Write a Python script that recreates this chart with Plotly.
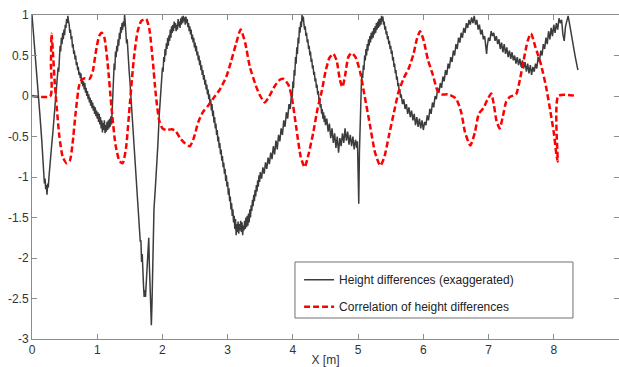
import plotly.graph_objects as go

# ---------------- data ----------------
height_pts = [
    (0.00, 1.00), (0.03, 0.72), (0.06, 0.42), (0.09, 0.10), (0.12, -0.22), (0.15, -0.55),
    (0.17, -0.85), (0.19, -1.08), (0.20, -1.02), (0.21, -1.15), (0.22, -1.10), (0.23, -1.22),
    (0.24, -1.08), (0.25, -1.13), (0.26, -1.00), (0.28, -0.85),
    (0.30, -0.62), (0.32, -0.45), (0.34, -0.22), (0.36, -0.05), (0.38, 0.15), (0.40, 0.35),
    (0.41, 0.30), (0.42, 0.50), (0.43, 0.62), (0.44, 0.55), (0.45, 0.72), (0.46, 0.64),
    (0.47, 0.78), (0.48, 0.70), (0.49, 0.82), (0.50, 0.75), (0.51, 0.88), (0.52, 0.84),
    (0.53, 0.95), (0.54, 0.90), (0.55, 0.99), (0.56, 0.92),
    (0.57, 0.88), (0.58, 0.78), (0.59, 0.82), (0.60, 0.70), (0.61, 0.74), (0.62, 0.60),
    (0.63, 0.64), (0.64, 0.52), (0.65, 0.56), (0.66, 0.45), (0.67, 0.50), (0.68, 0.38),
    (0.69, 0.42), (0.70, 0.32), (0.71, 0.36), (0.72, 0.26), (0.73, 0.30), (0.74, 0.22),
    (0.75, 0.28), (0.76, 0.15), (0.77, 0.22), (0.78, 0.12), (0.79, 0.18), (0.80, 0.08),
    (0.81, 0.16), (0.82, 0.04), (0.83, 0.10), (0.84, 0.00), (0.85, 0.06), (0.86, -0.04),
    (0.87, 0.02), (0.88, -0.08), (0.89, -0.02), (0.90, -0.12), (0.91, -0.05), (0.92, -0.15),
    (0.93, -0.08), (0.94, -0.18), (0.95, -0.12), (0.96, -0.22), (0.97, -0.14), (0.98, -0.25),
    (0.99, -0.18), (1.00, -0.28), (1.01, -0.20), (1.02, -0.32), (1.03, -0.22), (1.04, -0.35),
    (1.05, -0.26), (1.06, -0.40), (1.07, -0.30), (1.08, -0.45), (1.09, -0.33), (1.10, -0.42),
    (1.11, -0.30), (1.12, -0.46), (1.13, -0.36), (1.14, -0.44), (1.15, -0.32), (1.16, -0.42),
    (1.17, -0.30), (1.18, -0.40), (1.19, -0.28), (1.20, -0.38), (1.21, -0.25), (1.22, -0.35),
    (1.23, -0.20),
    (1.24, 0.05), (1.25, 0.25), (1.26, 0.40), (1.27, 0.32), (1.28, 0.55), (1.29, 0.48),
    (1.30, 0.62), (1.31, 0.55), (1.32, 0.70), (1.33, 0.62), (1.34, 0.78), (1.35, 0.70),
    (1.36, 0.85), (1.37, 0.78), (1.38, 0.90), (1.39, 0.82), (1.40, 0.92), (1.41, 0.86),
    (1.42, 1.00), (1.43, 0.90),
    (1.44, 0.80), (1.45, 0.65), (1.46, 0.70), (1.47, 0.50), (1.48, 0.40), (1.49, 0.30),
    (1.50, 0.20), (1.52, -0.05), (1.54, -0.25), (1.56, -0.48), (1.58, -0.70),
    (1.60, -0.92), (1.62, -1.25), (1.64, -1.55), (1.65, -1.65), (1.66, -1.80), (1.67, -1.78),
    (1.68, -2.05), (1.69, -1.95), (1.70, -2.25), (1.71, -2.35), (1.72, -2.48), (1.73, -2.40),
    (1.74, -2.48), (1.75, -2.30), (1.76, -2.10), (1.77, -1.95), (1.78, -1.80), (1.79, -1.75),
    (1.80, -2.10), (1.81, -2.40), (1.82, -2.65), (1.83, -2.83), (1.84, -2.55), (1.85, -2.25),
    (1.86, -2.00), (1.87, -1.40), (1.89, -1.15), (1.91, -0.90),
    (1.93, -0.60), (1.95, -0.25), (1.97, 0.05), (1.99, 0.25), (2.00, 0.35), (2.01, 0.30),
    (2.02, 0.48), (2.03, 0.42), (2.04, 0.58), (2.05, 0.50), (2.06, 0.65), (2.07, 0.58),
    (2.08, 0.72), (2.09, 0.62), (2.10, 0.75), (2.11, 0.68), (2.12, 0.82), (2.13, 0.72),
    (2.14, 0.86), (2.15, 0.78), (2.16, 0.88), (2.17, 0.80), (2.18, 0.92), (2.19, 0.84),
    (2.20, 0.90), (2.21, 0.80), (2.22, 0.88), (2.23, 0.82), (2.24, 0.95), (2.25, 0.86),
    (2.26, 0.92), (2.27, 0.84), (2.28, 0.96), (2.29, 0.88), (2.30, 0.98), (2.31, 0.90),
    (2.32, 0.99), (2.33, 0.92), (2.34, 0.97), (2.35, 0.88), (2.36, 0.98), (2.37, 0.90),
    (2.38, 0.95),
    (2.39, 0.85), (2.40, 0.90), (2.41, 0.80), (2.42, 0.86), (2.43, 0.76), (2.44, 0.82),
    (2.45, 0.70), (2.46, 0.76), (2.47, 0.66), (2.48, 0.72), (2.49, 0.60), (2.50, 0.66),
    (2.51, 0.55), (2.52, 0.62), (2.53, 0.50), (2.54, 0.55), (2.55, 0.44), (2.56, 0.50),
    (2.57, 0.38), (2.58, 0.44), (2.59, 0.32), (2.60, 0.38), (2.61, 0.26), (2.62, 0.32),
    (2.63, 0.20), (2.64, 0.26), (2.65, 0.14), (2.66, 0.20), (2.67, 0.08), (2.68, 0.14),
    (2.69, 0.02), (2.70, 0.08), (2.71, -0.04), (2.72, 0.02), (2.73, -0.10), (2.74, -0.04),
    (2.75, -0.18), (2.76, -0.10), (2.77, -0.25), (2.78, -0.18), (2.79, -0.33), (2.80, -0.26),
    (2.81, -0.40), (2.82, -0.34), (2.83, -0.48), (2.84, -0.42), (2.85, -0.56), (2.86, -0.50),
    (2.87, -0.64), (2.88, -0.58), (2.89, -0.72), (2.90, -0.66), (2.91, -0.80), (2.92, -0.74),
    (2.93, -0.88), (2.94, -0.82), (2.95, -0.96), (2.96, -0.90), (2.97, -1.05), (2.98, -0.98),
    (2.99, -1.12), (3.00, -1.06), (3.01, -1.22), (3.02, -1.14), (3.03, -1.30), (3.04, -1.24),
    (3.05, -1.40), (3.06, -1.32), (3.07, -1.48), (3.08, -1.40), (3.09, -1.56), (3.10, -1.48),
    (3.11, -1.64), (3.12, -1.52), (3.13, -1.72), (3.14, -1.58), (3.15, -1.68), (3.16, -1.55),
    (3.17, -1.70), (3.18, -1.58), (3.19, -1.66), (3.20, -1.54), (3.21, -1.68), (3.22, -1.56),
    (3.23, -1.72), (3.24, -1.60), (3.25, -1.66), (3.26, -1.54), (3.27, -1.64), (3.28, -1.50),
    (3.29, -1.62), (3.30, -1.48), (3.31, -1.60), (3.32, -1.45),
    (3.33, -1.56), (3.34, -1.40), (3.35, -1.50), (3.36, -1.35), (3.37, -1.42), (3.38, -1.28),
    (3.39, -1.36), (3.40, -1.22), (3.41, -1.30), (3.42, -1.16), (3.43, -1.24), (3.44, -1.10),
    (3.45, -1.18), (3.46, -1.04), (3.47, -1.12), (3.48, -0.98), (3.49, -1.06), (3.50, -0.94),
    (3.52, -1.02), (3.54, -0.88), (3.56, -0.96), (3.58, -0.82), (3.60, -0.90), (3.62, -0.76),
    (3.64, -0.84), (3.66, -0.70), (3.68, -0.78), (3.70, -0.62), (3.72, -0.72), (3.74, -0.55),
    (3.76, -0.66), (3.78, -0.48), (3.80, -0.56), (3.82, -0.40), (3.84, -0.48), (3.86, -0.30),
    (3.88, -0.38), (3.90, -0.20), (3.92, -0.28), (3.94, -0.10), (3.96, -0.16), (3.98, 0.05),
    (3.99, -0.02), (4.00, 0.18), (4.01, 0.10), (4.02, 0.32), (4.03, 0.25), (4.04, 0.48),
    (4.05, 0.40), (4.06, 0.60), (4.07, 0.52), (4.08, 0.72), (4.09, 0.65), (4.10, 0.85),
    (4.11, 0.78), (4.12, 0.92), (4.13, 0.85), (4.14, 1.00), (4.15, 0.92), (4.16, 0.98),
    (4.17, 0.88), (4.18, 0.82), (4.19, 0.86), (4.20, 0.74), (4.21, 0.78), (4.22, 0.66),
    (4.23, 0.70), (4.24, 0.58), (4.25, 0.62), (4.26, 0.50), (4.27, 0.55), (4.28, 0.42),
    (4.29, 0.46), (4.30, 0.34), (4.31, 0.38), (4.32, 0.26), (4.33, 0.30), (4.34, 0.18),
    (4.35, 0.22), (4.36, 0.10), (4.37, 0.14), (4.38, 0.02), (4.39, 0.06), (4.40, -0.06),
    (4.41, -0.02), (4.42, -0.14), (4.43, -0.10), (4.44, -0.22), (4.45, -0.16), (4.46, -0.28),
    (4.47, -0.20), (4.48, -0.32), (4.49, -0.24), (4.50, -0.36), (4.52, -0.28), (4.54, -0.44),
    (4.56, -0.34), (4.58, -0.52), (4.60, -0.40), (4.62, -0.58), (4.64, -0.46), (4.66, -0.64),
    (4.68, -0.50), (4.70, -0.70), (4.72, -0.52), (4.74, -0.62), (4.76, -0.46), (4.78, -0.58),
    (4.80, -0.40), (4.82, -0.55), (4.84, -0.44), (4.86, -0.60), (4.88, -0.48), (4.90, -0.62),
    (4.92, -0.50), (4.94, -0.66), (4.96, -0.54), (4.98, -0.64), (4.99, -0.56), (5.00, -0.95),
    (5.01, -1.33), (5.02, -0.70), (5.03, -0.35), (5.04, -0.10),
    (5.05, 0.15), (5.06, 0.28), (5.07, 0.22), (5.08, 0.38), (5.09, 0.32), (5.10, 0.50),
    (5.11, 0.44), (5.12, 0.58), (5.13, 0.50), (5.14, 0.64), (5.15, 0.56), (5.16, 0.70),
    (5.17, 0.62), (5.18, 0.74), (5.19, 0.66), (5.20, 0.78), (5.21, 0.70), (5.22, 0.80),
    (5.23, 0.72), (5.24, 0.84), (5.25, 0.76), (5.26, 0.86), (5.27, 0.78), (5.28, 0.90),
    (5.29, 0.82), (5.30, 0.92), (5.31, 0.84), (5.32, 0.95), (5.33, 0.86), (5.34, 0.96),
    (5.35, 0.88), (5.36, 0.99), (5.37, 0.92), (5.38, 0.98),
    (5.39, 0.88), (5.40, 0.92), (5.41, 0.82), (5.42, 0.86), (5.43, 0.76), (5.44, 0.80),
    (5.45, 0.70), (5.46, 0.74), (5.47, 0.64), (5.48, 0.68), (5.49, 0.58), (5.50, 0.62),
    (5.51, 0.52), (5.52, 0.56), (5.53, 0.44), (5.54, 0.48), (5.55, 0.36), (5.56, 0.40),
    (5.57, 0.28), (5.58, 0.32), (5.59, 0.20), (5.60, 0.24), (5.61, 0.12), (5.62, 0.16),
    (5.63, 0.04), (5.64, 0.08), (5.65, -0.02), (5.66, 0.02), (5.68, -0.10), (5.70, -0.04),
    (5.72, -0.16), (5.74, -0.10), (5.76, -0.22), (5.78, -0.14), (5.80, -0.26), (5.82, -0.18),
    (5.84, -0.30), (5.86, -0.22), (5.88, -0.36), (5.90, -0.26), (5.92, -0.38), (5.94, -0.28),
    (5.96, -0.40), (5.98, -0.30), (6.00, -0.42), (6.02, -0.32),
    (6.04, -0.36), (6.06, -0.24), (6.08, -0.30), (6.10, -0.16), (6.12, -0.22), (6.14, -0.08),
    (6.16, -0.14), (6.18, 0.00), (6.20, -0.04), (6.22, 0.10), (6.24, 0.04), (6.26, 0.16),
    (6.28, 0.10), (6.30, 0.24), (6.32, 0.18), (6.34, 0.32), (6.36, 0.26), (6.38, 0.40),
    (6.40, 0.34), (6.42, 0.48), (6.44, 0.42), (6.46, 0.56), (6.48, 0.50), (6.50, 0.64),
    (6.52, 0.58), (6.54, 0.72), (6.56, 0.66), (6.58, 0.78), (6.60, 0.72), (6.62, 0.84),
    (6.64, 0.78), (6.66, 0.90), (6.68, 0.84), (6.70, 0.94), (6.72, 0.88), (6.74, 0.97),
    (6.76, 0.90), (6.78, 0.99),
    (6.80, 0.88), (6.82, 0.94), (6.84, 0.82), (6.86, 0.88), (6.88, 0.76), (6.90, 0.82),
    (6.92, 0.70), (6.94, 0.74), (6.96, 0.56), (6.97, 0.52), (6.98, 0.62), (7.00, 0.72),
    (7.02, 0.68), (7.04, 0.80), (7.06, 0.74), (7.08, 0.78), (7.10, 0.68), (7.12, 0.74),
    (7.14, 0.64), (7.16, 0.70), (7.18, 0.58), (7.20, 0.66), (7.22, 0.54), (7.24, 0.64),
    (7.26, 0.52), (7.28, 0.60), (7.30, 0.48), (7.32, 0.56), (7.34, 0.46), (7.36, 0.54),
    (7.38, 0.44), (7.40, 0.50), (7.42, 0.40), (7.44, 0.48), (7.46, 0.38), (7.48, 0.46),
    (7.50, 0.36), (7.52, 0.44),
    (7.54, 0.34), (7.56, 0.42), (7.58, 0.30), (7.60, 0.40), (7.62, 0.28), (7.64, 0.38),
    (7.66, 0.26), (7.68, 0.36), (7.70, 0.30), (7.72, 0.40), (7.74, 0.34), (7.76, 0.48),
    (7.78, 0.42), (7.80, 0.56), (7.82, 0.50), (7.84, 0.64), (7.86, 0.58), (7.88, 0.72),
    (7.90, 0.64), (7.92, 0.80), (7.94, 0.70), (7.96, 0.84), (7.98, 0.74), (8.00, 0.88),
    (8.02, 0.78), (8.04, 0.90), (8.06, 0.82), (8.08, 0.96), (8.10, 0.90), (8.12, 0.94),
    (8.14, 0.76), (8.16, 0.68), (8.18, 0.86), (8.20, 0.94), (8.22, 0.99), (8.24, 0.90),
    (8.26, 0.80), (8.28, 0.70), (8.30, 0.62), (8.33, 0.48), (8.37, 0.32),
]
height_x = [p[0] for p in height_pts]
height_y = [p[1] for p in height_pts]

corr_pts = [
    (0.00, 0.0), (0.28, 0.0), (0.29, 0.40), (0.30, 0.77), (0.32, 0.55), (0.35, 0.15),
    (0.38, -0.15), (0.42, -0.50), (0.47, -0.75), (0.53, -0.83), (0.58, -0.80),
    (0.62, -0.60), (0.67, -0.20), (0.72, 0.12), (0.76, 0.20), (0.81, 0.22), (0.88, 0.21),
    (0.93, 0.30), (0.98, 0.55), (1.03, 0.74), (1.07, 0.78), (1.11, 0.72), (1.16, 0.40),
    (1.22, -0.15), (1.28, -0.60), (1.34, -0.80), (1.39, -0.83), (1.44, -0.65), (1.50, -0.10),
    (1.56, 0.45), (1.62, 0.80), (1.68, 0.93), (1.75, 0.95), (1.80, 0.82), (1.85, 0.45),
    (1.90, 0.00), (1.95, -0.30), (2.00, -0.40), (2.06, -0.42), (2.14, -0.41), (2.20, -0.43),
    (2.27, -0.52), (2.34, -0.58), (2.42, -0.62), (2.48, -0.52), (2.55, -0.32), (2.62, -0.20),
    (2.70, -0.12), (2.78, -0.03), (2.88, 0.08), (2.98, 0.24), (3.05, 0.42), (3.13, 0.65),
    (3.20, 0.82), (3.27, 0.65), (3.34, 0.36), (3.44, 0.11), (3.50, 0.00), (3.57, -0.08),
    (3.64, 0.00), (3.72, 0.12), (3.80, 0.20), (3.86, 0.21), (3.93, 0.14), (3.98, 0.00),
    (4.05, -0.38), (4.12, -0.75), (4.18, -0.88), (4.24, -0.72), (4.31, -0.46), (4.38, -0.15),
    (4.44, 0.05), (4.50, 0.30), (4.56, 0.47), (4.62, 0.52), (4.67, 0.44), (4.72, 0.20),
    (4.76, 0.11), (4.80, 0.25), (4.85, 0.48), (4.90, 0.53), (4.96, 0.48), (5.03, 0.30),
    (5.10, 0.00), (5.18, -0.35), (5.26, -0.70), (5.34, -0.86), (5.40, -0.76), (5.47, -0.50),
    (5.55, -0.20), (5.62, 0.05), (5.70, 0.22), (5.78, 0.35), (5.85, 0.52), (5.90, 0.70),
    (5.95, 0.80), (6.00, 0.70), (6.07, 0.45), (6.15, 0.25), (6.22, 0.06), (6.28, 0.02),
    (6.38, 0.02), (6.50, -0.03), (6.58, -0.20), (6.64, -0.45), (6.72, -0.61), (6.79, -0.45),
    (6.85, -0.22), (6.92, -0.15), (6.98, -0.05), (7.04, 0.03), (7.08, -0.10), (7.12, -0.30),
    (7.17, -0.40), (7.22, -0.25), (7.27, -0.07), (7.33, -0.01), (7.42, 0.02), (7.48, 0.20),
    (7.54, 0.45), (7.60, 0.68), (7.65, 0.77), (7.72, 0.60), (7.80, 0.40), (7.88, 0.12),
    (7.95, -0.20), (8.00, -0.45), (8.04, -0.72), (8.06, -0.81), (8.07, 0.00), (8.35, 0.00),
]
corr_x = [p[0] for p in corr_pts]
corr_y = [p[1] for p in corr_pts]

x_ticks = [0, 1, 2, 3, 4, 5, 6, 7, 8, 9]
y_ticks = [-3, -2.5, -2, -1.5, -1, -0.5, 0, 0.5, 1]
y_ticktext = ["-3", "-2.5", "-2", "-1.5", "-1", "-0.5", "0", "0.5", "1"]

names = ["Height differences (exaggerated)", "Correlation of height differences"]

FONT = "Liberation Sans, Arial, sans-serif"
AX = "#8c8c8c"

fig = go.Figure()
fig.add_trace(go.Scatter(
    x=height_x, y=height_y, mode="lines", name=names[0], legendgroup="a",
    line=dict(color="#3c3c3c", width=1.5),
))
fig.add_trace(go.Scatter(
    x=corr_x, y=corr_y, mode="lines", name=names[1], legendgroup="b",
    line=dict(color="#ff0000", width=2.5, dash="6px,3px", shape="spline", smoothing=0.6),
))

axis_common = dict(
    showgrid=False, zeroline=False, showline=True, linecolor=AX, linewidth=1,
    ticks="inside", ticklen=5, tickcolor=AX, mirror="ticks",
    tickfont=dict(family=FONT, size=12, color="#333333"), automargin=False,
)
fig.update_xaxes(range=[0, 9], tickvals=x_ticks, ticktext=[str(v) for v in x_ticks],
                 title=dict(text="X [m]", font=dict(family=FONT, size=12, color="#333333"), standoff=2),
                 **axis_common)
fig.update_yaxes(range=[-3, 1], tickvals=y_ticks, ticktext=y_ticktext, **axis_common)

# legend frame (drawn wider than the automatic legend box, as in the reference)
fig.add_shape(type="rect", xref="paper", yref="paper",
              x0=0.448, x1=0.9216, y0=0.0648, y1=0.2377,
              line=dict(color="#707070", width=1), fillcolor="white", layer="above")

fig.update_layout(
    template="none",
    width=619, height=367,
    margin=dict(l=32, r=0, t=15, b=28),
    paper_bgcolor="white", plot_bgcolor="white",
    font=dict(family=FONT, size=12, color="#333333"),
    showlegend=True,
    legend=dict(
        x=0.455, y=0.228, xanchor="left", yanchor="top",
        bgcolor="rgba(0,0,0,0)", bordercolor="rgba(0,0,0,0)", borderwidth=0,
        font=dict(family=FONT, size=12, color="#222222"),
        traceorder="grouped", tracegroupgap=8,
    ),
)

fig.write_html("out.html", config={"displayModeBar": False},
               post_script="document.body.style.margin='0px';document.body.style.overflow='hidden';")
